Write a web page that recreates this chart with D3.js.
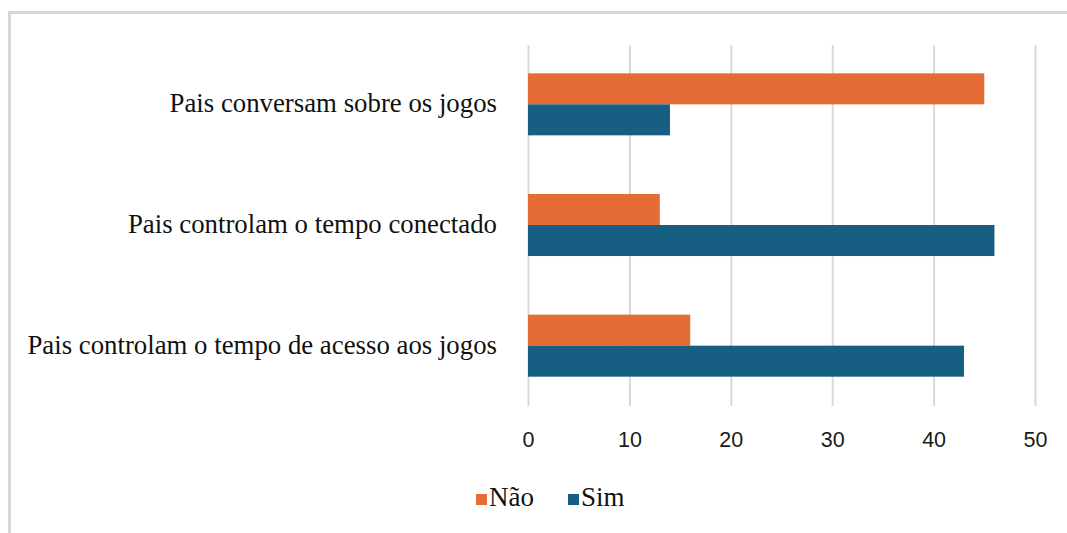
<!DOCTYPE html>
<meta charset="utf-8">
<script src="https://cdn.jsdelivr.net/npm/d3@7"></script>
<style>
  body { margin: 0; background: #fff; }
  .tick text { font-family: "Liberation Sans", Arial, sans-serif; font-size: 21.5px; fill: #1a1a1a; }
  .cat { font-family: "Liberation Serif", "Times New Roman", serif; font-size: 26.8px; fill: #111; }
  .leg { font-family: "Liberation Serif", "Times New Roman", serif; font-size: 27px; fill: #111; }
</style>
<svg id="chart" width="1067" height="533"></svg>
<script>
// data
var categories = ["Pais conversam sobre os jogos", "Pais controlam o tempo conectado", "Pais controlam o tempo de acesso aos jogos"];
var seriesNames = ["Não", "Sim"];
var naoValues = [45, 13, 16];
var simValues = [14, 46, 43];
var xTicks = [0, 10, 20, 30, 40, 50];
var colors = ["#e56d35", "#175f82"];

var svg = d3.select("#chart");

// outer frame (only top and left edges are visible)
svg.append("rect")
  .attr("x", 9.5).attr("y", 12.5)
  .attr("width", 1100).attr("height", 600)
  .attr("fill", "none").attr("stroke", "#d6d6d6").attr("stroke-width", 3);

var x = d3.scaleLinear().domain([0, 50]).range([528, 1035]);
var y = d3.scaleBand().domain(categories).range([44, 406]).paddingInner(0.486).paddingOuter(0.243);
var ySub = d3.scaleBand().domain(seriesNames).range([0, y.bandwidth()]);

// grid lines + tick labels
var xAxis = svg.append("g")
  .attr("transform", "translate(0,406)")
  .call(d3.axisBottom(x).tickValues(xTicks).tickSize(-361).tickPadding(26).tickFormat(d3.format("d")));
xAxis.select(".domain").remove();
xAxis.selectAll(".tick line").attr("stroke", "#d9d9d9").attr("stroke-width", 2);

// bars
var rows = categories.map(function (c, i) {
  return { cat: c, vals: [naoValues[i], simValues[i]] };
});
var grp = svg.selectAll("g.row").data(rows).enter().append("g")
  .attr("class", "row")
  .attr("transform", function (d) { return "translate(0," + y(d.cat) + ")"; });
grp.selectAll("rect").data(function (d) { return d.vals; }).enter().append("rect")
  .attr("x", x(0))
  .attr("y", function (d, i) { return ySub(seriesNames[i]); })
  .attr("width", function (d) { return x(d) - x(0); })
  .attr("height", ySub.bandwidth())
  .attr("fill", function (d, i) { return colors[i]; });

// category labels
svg.selectAll("text.cat").data(categories).enter().append("text")
  .attr("class", "cat")
  .attr("x", 497)
  .attr("y", function (d) { return y(d) + y.bandwidth() / 2 + 8; })
  .attr("text-anchor", "end")
  .text(function (d) { return d; });

// legend
var legX = [476, 568];
var leg = svg.selectAll("g.leg").data(seriesNames).enter().append("g")
  .attr("transform", function (d, i) { return "translate(" + legX[i] + ",494)"; });
leg.append("rect").attr("width", 11).attr("height", 11)
  .attr("fill", function (d, i) { return colors[i]; });
leg.append("text").attr("class", "leg").attr("x", 13).attr("y", 11.5).text(function (d) { return d; });
</script>
